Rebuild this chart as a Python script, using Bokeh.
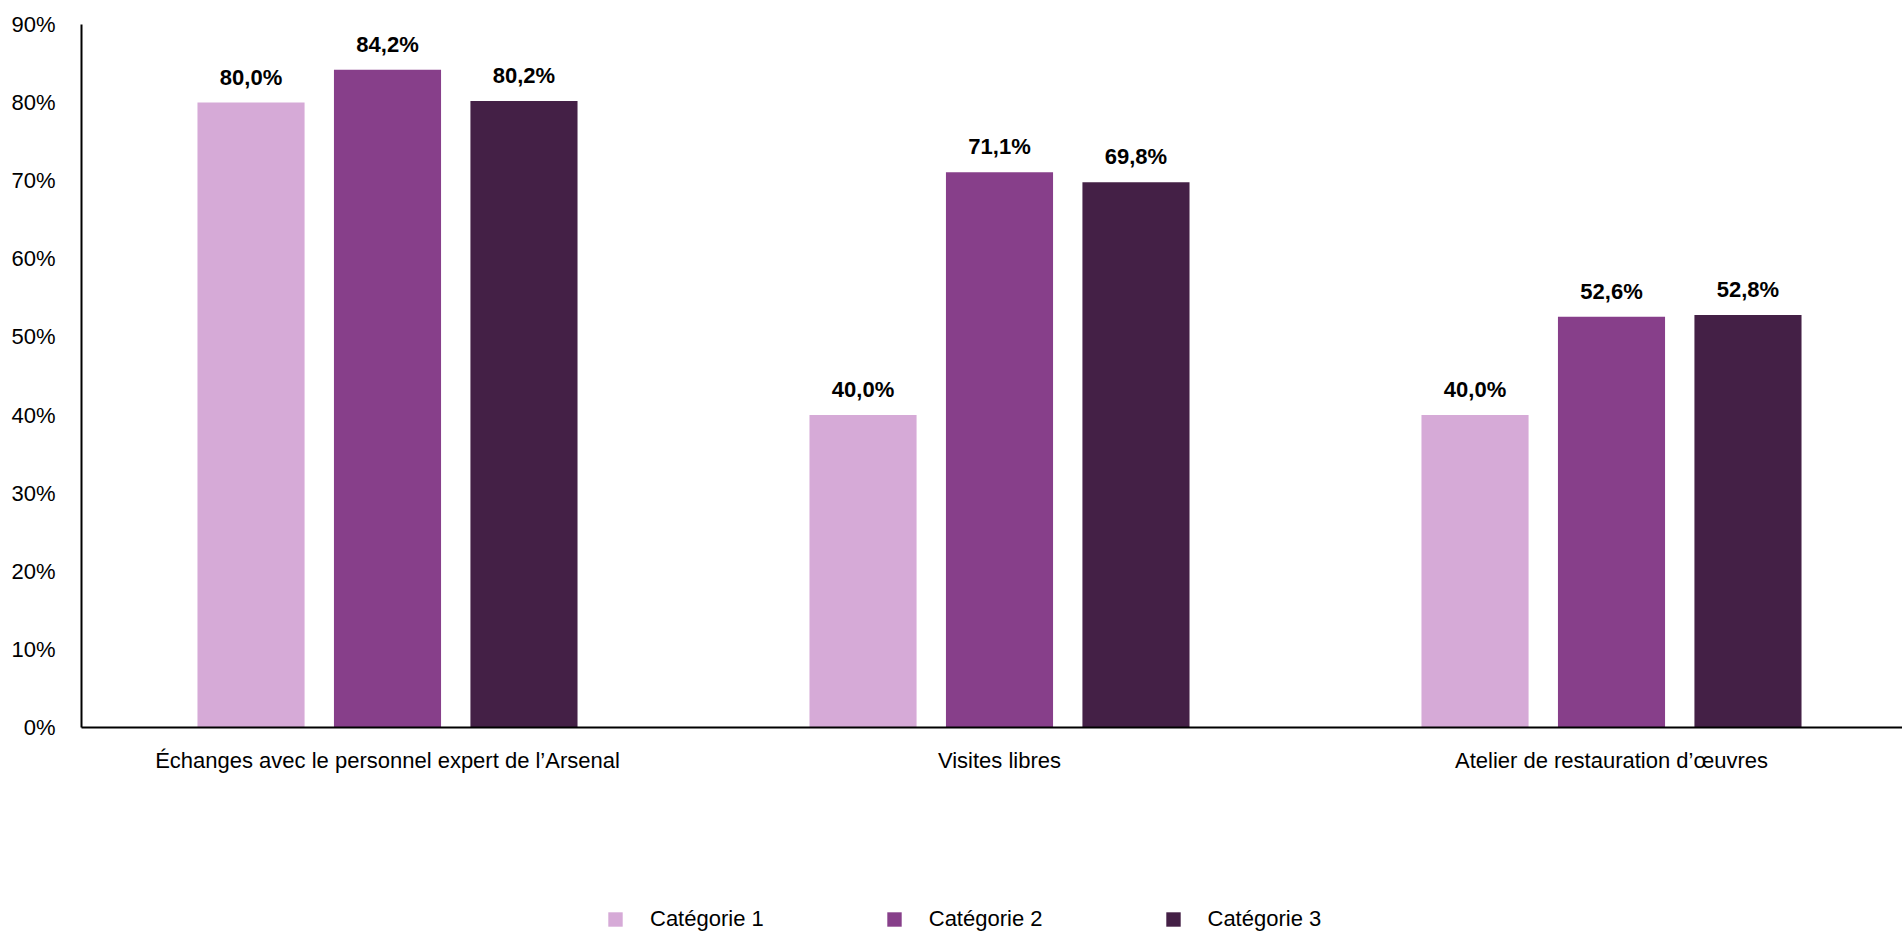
from bokeh.plotting import figure
from bokeh.layouts import column
from bokeh.models import ColumnDataSource, Range1d, FixedTicker, PrintfTickFormatter, Legend, LegendItem
from bokeh.transform import dodge
from bokeh.core.properties import value
from bokeh.embed import file_html
from bokeh.resources import INLINE

categories = ["Échanges avec le personnel expert de l\u2019Arsenal", "Visites libres", "Atelier de restauration d\u2019œuvres"]
series_names = ["Catégorie 1", "Catégorie 2", "Catégorie 3"]
cat1 = [80.0, 40.0, 40.0]
cat2 = [84.2, 71.1, 52.6]
cat3 = [80.2, 69.8, 52.8]
y_ticks = [0, 10, 20, 30, 40, 50, 60, 70, 80, 90]

colors = ["#D6AAD7", "#873F8A", "#442046"]
FONT = "Liberation Sans"

def fmt(v):
    return ("%.1f" % v).replace(".", ",") + "%"

# category slots: each category occupies one unit, centred on i + 0.5
xpos = [i + 0.5 for i in range(len(categories))]

src = ColumnDataSource(dict(
    x=xpos,
    s1=cat1, s2=cat2, s3=cat3,
    l1=[fmt(v) for v in cat1], l2=[fmt(v) for v in cat2], l3=[fmt(v) for v in cat3],
))

W = 1902
LEFT = 81
UNIT = 612  # px per category slot (the chart is cut at the right edge)
p = figure(width=W, height=800, x_range=Range1d(0, (W - LEFT) / UNIT),
           y_range=Range1d(0, 90), output_backend="svg", toolbar_location=None,
           min_border_left=LEFT, min_border_right=0, min_border_top=24, min_border_bottom=73)
p.outline_line_color = None
p.xgrid.grid_line_color = None
p.ygrid.grid_line_color = None

offsets = [-0.223, 0.0, 0.223]
for i, (key, lab) in enumerate([("s1", "l1"), ("s2", "l2"), ("s3", "l3")]):
    p.vbar(x=dodge("x", offsets[i]), top=key, width=0.175,
           source=src, fill_color=colors[i], line_color=None)
    p.text(x=dodge("x", offsets[i]), y=key, text=lab, source=src,
           text_align="center", text_baseline="bottom", y_offset=-13,
           text_font=value(FONT), text_font_style="bold", text_font_size="22px",
           text_color="#000000")

p.xaxis.ticker = FixedTicker(ticks=xpos)
p.xaxis.major_label_overrides = {x: c for x, c in zip(xpos, categories)}
p.yaxis.ticker = FixedTicker(ticks=y_ticks)
p.yaxis.formatter = PrintfTickFormatter(format="%d%%")
for ax in (p.xaxis, p.yaxis):
    ax.major_tick_line_color = None
    ax.minor_tick_line_color = None
    ax.axis_line_color = "#000000"
    ax.axis_line_width = 2
    ax.major_label_text_font = FONT
    ax.major_label_text_font_size = "22px"
    ax.major_label_text_color = "#000000"
p.yaxis.major_label_standoff = 20
p.xaxis.major_label_standoff = 14

# legend strip below the chart
pl = figure(width=W, height=134, x_range=Range1d(0, 1), y_range=Range1d(0, 1),
            output_backend="svg", toolbar_location=None, x_axis_type=None, y_axis_type=None,
            min_border_left=0, min_border_right=0, min_border_top=0, min_border_bottom=0)
pl.outline_line_color = None
pl.xgrid.grid_line_color = None
pl.ygrid.grid_line_color = None
# swatch renderers for the legend (zero-height, outside the visible range)
swatch = ColumnDataSource(dict(x=[-5.0], top=[0.0]))
lrs = [pl.vbar(x="x", top="top", width=0.1, source=swatch, fill_color=colors[i], line_color=None)
       for i in range(3)]
legend = Legend(items=[LegendItem(label=series_names[i], renderers=[lrs[i]]) for i in range(3)],
                orientation="horizontal", location=(525, 2), glyph_width=18, glyph_height=18,
                label_standoff=26, spacing=121, padding=0, margin=0,
                label_text_font=FONT, label_text_font_size="22px", label_text_color="#000000",
                border_line_color=None, background_fill_alpha=0)
pl.add_layout(legend, "center")

layout = column(p, pl, spacing=0)
open("out.html", "w").write(file_html(layout, INLINE))
